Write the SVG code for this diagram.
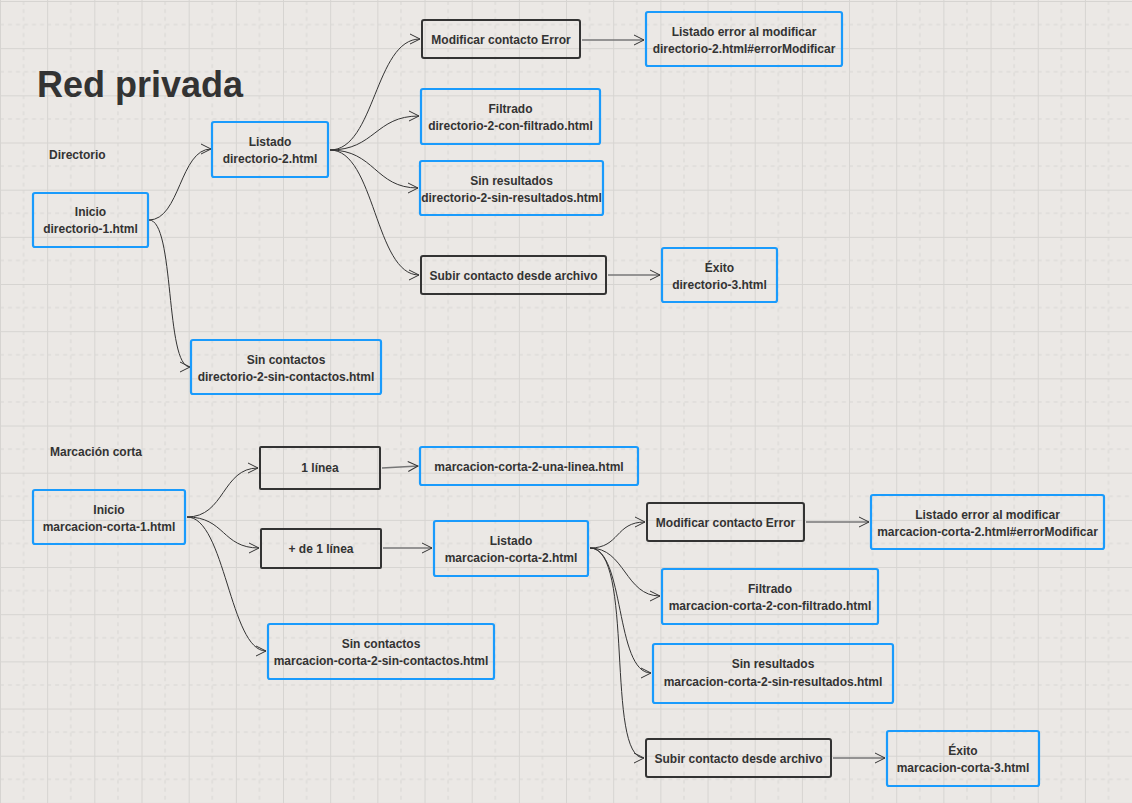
<svg xmlns="http://www.w3.org/2000/svg" width="1132" height="803" viewBox="0 0 1132 803">
<defs>
<pattern id="grid" patternUnits="userSpaceOnUse" width="47.17" height="47.17" x="0" y="1">
<line x1="23.58" y1="0" x2="23.58" y2="47.17" stroke="#d8d6d3" stroke-width="1" stroke-dasharray="4,4"/>
<line x1="0" y1="23.58" x2="47.17" y2="23.58" stroke="#d8d6d3" stroke-width="1" stroke-dasharray="4,4"/>
<line x1="0.5" y1="0" x2="0.5" y2="47.17" stroke="#d6d4d1" stroke-width="1"/>
<line x1="0" y1="0.5" x2="47.17" y2="0.5" stroke="#d6d4d1" stroke-width="1"/>
</pattern>
<marker id="arr" markerUnits="userSpaceOnUse" markerWidth="14" markerHeight="14" refX="11" refY="6" orient="auto">
<path d="M1,1 L11,6 L1,11" fill="none" stroke="#333" stroke-width="1"/>
</marker>
</defs>
<style>
.b{fill:none;stroke:#1a9bfc;stroke-width:2.2}
.k{fill:none;stroke:#333;stroke-width:2}
.t{font-family:"Liberation Sans",Arial,sans-serif;font-weight:bold;font-size:12px;fill:#333;text-anchor:middle}
.l{font-family:"Liberation Sans",Arial,sans-serif;font-weight:bold;font-size:12px;fill:#333}
.c{fill:none;stroke:#333;stroke-width:1;marker-end:url(#arr)}
.s{fill:none;stroke:#777;stroke-width:1.5;marker-end:url(#arr)}
</style>
<rect width="1132" height="803" fill="#ebe8e5"/>
<rect width="1132" height="803" fill="url(#grid)"/>
<text x="37" y="97" style="font-family:'Liberation Sans',Arial,sans-serif;font-weight:bold;font-size:36px;fill:#333">Red privada</text>
<text class="l" x="49" y="159">Directorio</text>
<text class="l" x="50" y="456">Marcación corta</text>

<g id="connectors">
<path class="c" d="M149,220 C180,220 180,149 211,149"/>
<path class="c" d="M149,220 C175,220 165,367 190,367"/>
<path class="c" d="M330,150 C375,150 375,39 420,39"/>
<path class="c" d="M330,150 C375,150 375,116 419,116"/>
<path class="c" d="M330,150 C375,150 375,188 418,188"/>
<path class="c" d="M330,150 C375,150 375,275 419,275"/>
<path class="s" d="M582,40 L644,40"/>
<path class="s" d="M608,275 L660,275"/>
<path class="c" d="M187,517 C225,517 222,468 258,468"/>
<path class="c" d="M187,517 C225,517 222,548 259,548"/>
<path class="c" d="M187,517 C225,517 230,651 266,651"/>
<path class="s" d="M382,468 L418,466"/>
<path class="s" d="M383,548 L432,548"/>
<path class="c" d="M590,548 C620,548 615,522 645,522"/>
<path class="c" d="M590,548 C625,548 625,596 660,596"/>
<path class="c" d="M590,548 C625,548 615,673 651,673"/>
<path class="c" d="M590,548 C635,548 605,758 644,758"/>
<path class="s" d="M806,522 L869,522"/>
<path class="s" d="M833,758 L885,758"/>
</g>

<g id="n1"><rect class="b" x="33" y="193" width="115" height="54" rx="2"/><text class="t" x="90.5" y="216">Inicio</text><text class="t" x="90.5" y="233">directorio-1.html</text></g>
<g id="n2"><rect class="b" x="212" y="122" width="116" height="55" rx="2"/><text class="t" x="270" y="146">Listado</text><text class="t" x="270" y="163">directorio-2.html</text></g>
<g id="n3"><rect class="k" x="422" y="20" width="158" height="38" rx="2"/><text class="t" x="501" y="44">Modificar contacto Error</text></g>
<g id="n4"><rect class="b" x="646" y="12" width="196" height="54" rx="2"/><text class="t" x="744" y="36">Listado error al modificar</text><text class="t" x="744" y="53">directorio-2.html#errorModificar</text></g>
<g id="n5"><rect class="b" x="421" y="89" width="179" height="55" rx="2"/><text class="t" x="510.5" y="113">Filtrado</text><text class="t" x="510.5" y="130">directorio-2-con-filtrado.html</text></g>
<g id="n6"><rect class="b" x="420" y="161" width="183" height="54" rx="2"/><text class="t" x="511.5" y="185">Sin resultados</text><text class="t" x="511.5" y="202">directorio-2-sin-resultados.html</text></g>
<g id="n7"><rect class="k" x="421" y="256" width="185" height="38" rx="2"/><text class="t" x="513.5" y="280">Subir contacto desde archivo</text></g>
<g id="n8"><rect class="b" x="662" y="248" width="115" height="54" rx="2"/><text class="t" x="719.5" y="272">Éxito</text><text class="t" x="719.5" y="289">directorio-3.html</text></g>
<g id="n9"><rect class="b" x="191" y="340" width="190" height="54" rx="2"/><text class="t" x="286" y="364">Sin contactos</text><text class="t" x="286" y="381">directorio-2-sin-contactos.html</text></g>

<g id="n10"><rect class="b" x="33" y="490" width="152" height="54" rx="2"/><text class="t" x="109" y="514">Inicio</text><text class="t" x="109" y="531">marcacion-corta-1.html</text></g>
<g id="n11"><rect class="k" x="260" y="447" width="120" height="42" rx="1"/><text class="t" x="320" y="472">1 línea</text></g>
<g id="n12"><rect class="b" x="420" y="447" width="218" height="38" rx="2"/><text class="t" x="529" y="471">marcacion-corta-2-una-linea.html</text></g>
<g id="n13"><rect class="k" x="261" y="529" width="120" height="39" rx="1"/><text class="t" x="321" y="553">+ de 1 línea</text></g>
<g id="n14"><rect class="b" x="434" y="521" width="154" height="55" rx="2"/><text class="t" x="511" y="545">Listado</text><text class="t" x="511" y="562">marcacion-corta-2.html</text></g>
<g id="n15"><rect class="k" x="647" y="503" width="157" height="38" rx="2"/><text class="t" x="725.5" y="527">Modificar contacto Error</text></g>
<g id="n16"><rect class="b" x="871" y="495" width="233" height="54" rx="2"/><text class="t" x="987.5" y="519">Listado error al modificar</text><text class="t" x="987.5" y="536">marcacion-corta-2.html#errorModificar</text></g>
<g id="n17"><rect class="b" x="662" y="569" width="216" height="55" rx="2"/><text class="t" x="770" y="593">Filtrado</text><text class="t" x="770" y="610">marcacion-corta-2-con-filtrado.html</text></g>
<g id="n18"><rect class="b" x="653" y="644" width="240" height="59" rx="2"/><text class="t" x="773" y="668">Sin resultados</text><text class="t" x="773" y="686">marcacion-corta-2-sin-resultados.html</text></g>
<g id="n19"><rect class="b" x="268" y="624" width="226" height="55" rx="2"/><text class="t" x="381" y="648">Sin contactos</text><text class="t" x="381" y="665">marcacion-corta-2-sin-contactos.html</text></g>
<g id="n20"><rect class="k" x="646" y="739" width="185" height="38" rx="2"/><text class="t" x="738.5" y="763">Subir contacto desde archivo</text></g>
<g id="n21"><rect class="b" x="887" y="731" width="152" height="55" rx="2"/><text class="t" x="963" y="755">Éxito</text><text class="t" x="963" y="772">marcacion-corta-3.html</text></g>
</svg>
